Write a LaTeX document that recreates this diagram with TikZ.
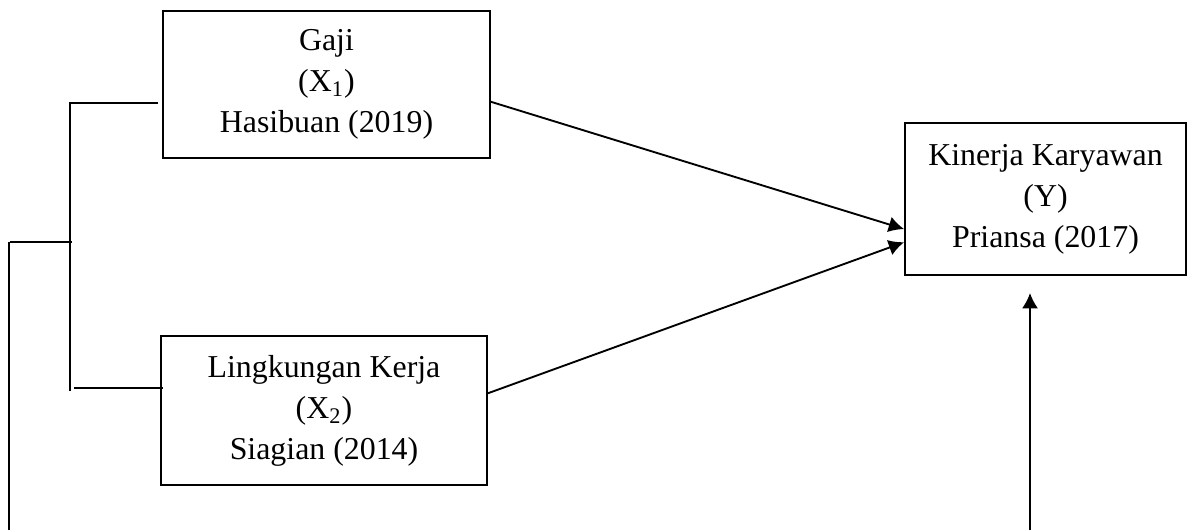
\documentclass[tikz,border=0pt]{standalone}
\usepackage{fontspec}
\setmainfont{Liberation Serif}
\usetikzlibrary{arrows.meta}

\tikzset{
  varbox/.style={draw, line width=0.8pt, align=center, inner sep=0pt,
    font=\fontsize{13.6}{17.5}\selectfont},
  link/.style={line width=0.8pt},
  arr/.style={line width=0.8pt, -{Latex[length=2.3mm,width=2.4mm]}}
}

\begin{document}
\begin{tikzpicture}
    \useasboundingbox (0,0) rectangle (17.85,7.95);
    \node[varbox, minimum width=4.9cm, minimum height=2.2cm] (gaji) at (4.8975,6.6825) {Gaji\\(X\textsubscript{1})\\Hasibuan (2019)}; 
    \node[varbox, minimum width=4.89cm, minimum height=2.235cm] (lk) at (4.86,1.7925) {Lingkungan Kerja\\(X\textsubscript{2})\\Siagian (2014)}; 
    \node[varbox, minimum width=4.215cm, minimum height=2.28cm] (kk) at (15.6825,4.965) {Kinerja Karyawan\\(Y)\\Priansa (2017)}; 
    \draw[arr] (gaji.-6) -- (kk.192); 
    \draw[arr] (lk.6) -- (kk.197.5); 
    % bracket on the left
    \coordinate (t1) at (1.05,6.405); 
    \coordinate (t2) at (2.37,6.405); 
    \coordinate (m1) at (1.05,2.085); 
    \coordinate (l1) at (1.11,2.13); 
    \coordinate (l2) at (2.445,2.13); 
    \coordinate (c1) at (0.15,4.32); 
    \coordinate (c2) at (1.08,4.32); 
    \coordinate (d1) at (0.135,4.32); 
    \coordinate (d2) at (0.135,0); 
    \draw[link] (t2) -- (t1) -- (m1); 
    \draw[link] (l1) -- (l2); 
    \draw[link] (c1) -- (c2); 
    \draw[link] (d1) -- (d2); 
    % arrow from below
    \coordinate (u1) at (15.45,0); 
    \coordinate (u2) at (15.45,3.555); 
    \draw[arr] (u1) -- (u2); 
  \end{tikzpicture}
\end{document}
